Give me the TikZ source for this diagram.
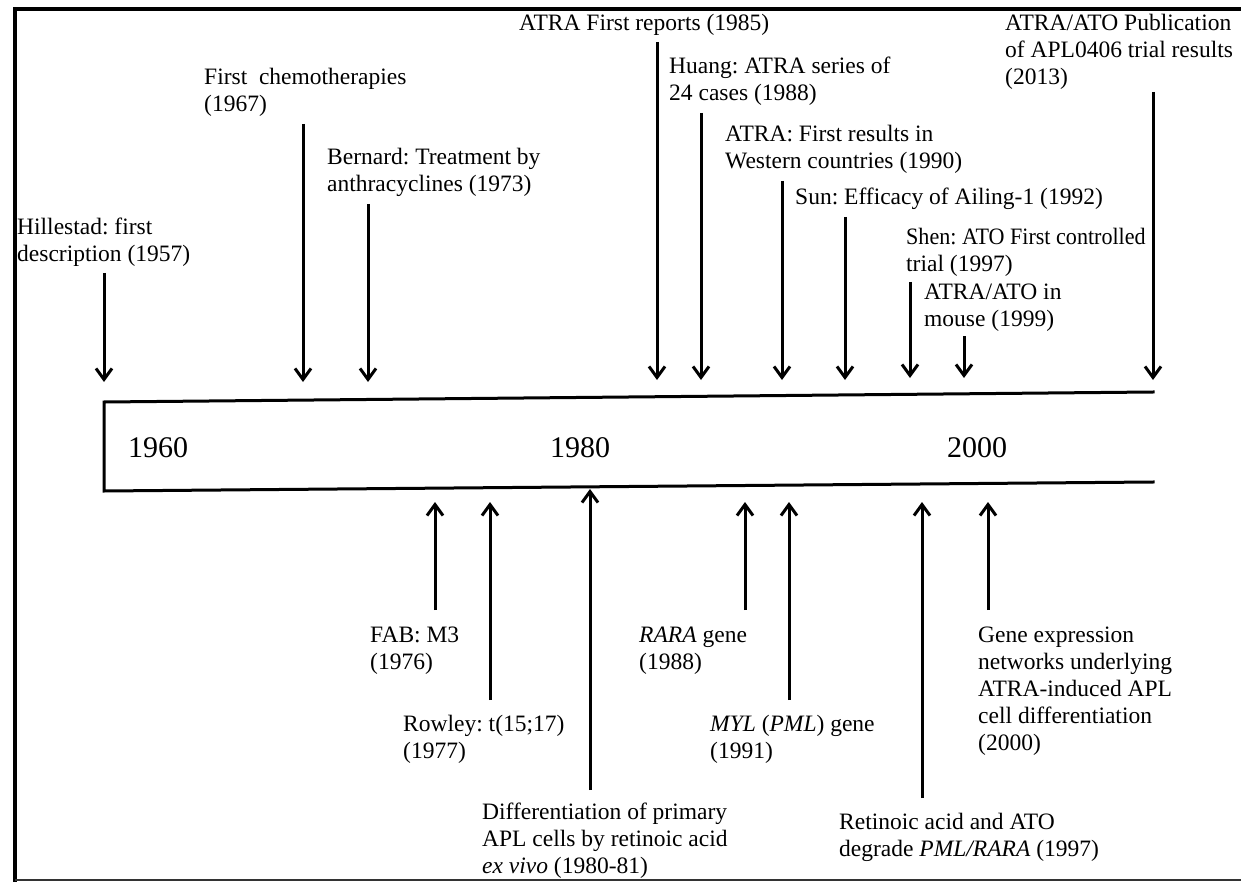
\documentclass[tikz,border=0pt]{standalone}
\usepackage{fontspec}
\setmainfont{Liberation Serif}
\usetikzlibrary{arrows.meta}
\frenchspacing
\begin{document}
\begin{tikzpicture}[x=1pt,y=-1pt,
  lbl/.style={anchor=north west, inner sep=0pt, align=left, font=\fontsize{23.5}{27}\selectfont\frenchspacing},
  yr/.style={anchor=base, inner sep=0pt, font=\fontsize{30}{30}\selectfont},
  evt/.style={line width=3pt, -{Straight Barb[length=11pt,width=16pt,line width=3pt]}},
  bar/.style={line width=3pt, line join=miter, line cap=rect},
  frame/.style={line width=4pt, line join=miter}]
\useasboundingbox (0,0) rectangle (1241,882);
% frame
\draw[frame] (15,882) |- (1241,9.5);
\draw[line width=2pt, black!80] (15,880) -- (1241,880);
% time bar
\coordinate (barTR) at (1153,392);
\coordinate (barTL) at (104,402);
\coordinate (barBL) at (104,491);
\coordinate (barBR) at (1153,482);
\draw[bar] (barTR) -- (barTL) -- (barBL) -- (barBR);
\node[yr] (y1960) at (158,457) {1960};
\node[yr] (y1980) at (580,457) {1980};
\node[yr] (y2000) at (977,457) {2000};
% top labels
\node[lbl] (hill) at (17,218) {Hillestad: first\\description (1957)};
\node[lbl] (chemo) at (204,68) {First\ \ chemotherapies\\(1967)};
\node[lbl] (bern) at (327,148) {Bernard: Treatment by\\anthracyclines (1973)};
\node[lbl] (rep) at (519,14) {ATRA First reports (1985)};
\node[lbl] (huang) at (669,57) {Huang: ATRA series of\\24 cases (1988)};
\node[lbl] (west) at (725,125) {ATRA: First results in\\Western countries (1990)};
\node[lbl] (sun) at (795,188) {Sun: Efficacy of Ailing-1 (1992)};
\node[lbl] (shen) at (906,228) {\scalebox{0.94}[1]{Shen: ATO First controlled}\\trial (1997)};
\node[lbl] (mouse) at (924,284) {ATRA/ATO in\\mouse (1999)};
\node[lbl] (pub) at (1005,14) {ATRA/ATO Publication\\of APL0406 trial results\\(2013)};
% bottom labels
\node[lbl] (fab) at (370,627) {FAB: M3\\(1976)};
\node[lbl] (row) at (403,715) {Rowley: t(15;17)\\(1977)};
\node[lbl] (diff) at (482,803) {Differentiation of primary\\APL cells by retinoic acid\\\textit{ex vivo} (1980-81)};
\node[lbl] (rara) at (639,627) {\textit{RARA} gene\\(1988)};
\node[lbl] (myl) at (710,715) {\textit{MYL} (\textit{PML}) gene\\(1991)};
\node[lbl] (reti) at (839,813) {Retinoic acid and ATO\\degrade \textit{PML/RARA} (1997)};
\node[lbl] (gene) at (978,627) {Gene expression\\networks underlying\\ATRA-induced APL\\cell differentiation\\(2000)};
% top arrows
\coordinate (hillS) at (104,273);  \coordinate (hillE) at (104,382);
\coordinate (chemoS) at (303,124); \coordinate (chemoE) at (303,382);
\coordinate (bernS) at (368,204);  \coordinate (bernE) at (368,382);
\coordinate (repS) at (657,42);    \coordinate (repE) at (657,380);
\coordinate (huangS) at (701,113); \coordinate (huangE) at (701,380);
\coordinate (westS) at (782,181);  \coordinate (westE) at (782,380);
\coordinate (sunS) at (845,217);   \coordinate (sunE) at (845,380);
\coordinate (shenS) at (910,282);  \coordinate (shenE) at (910,378);
\coordinate (mouseS) at (964,336); \coordinate (mouseE) at (964,378);
\coordinate (pubS) at (1153,92);   \coordinate (pubE) at (1153,380);
\foreach \n in {hill,chemo,bern,rep,huang,west,sun,shen,mouse,pub}
  \draw[evt] (\n S) -- (\n E);
% bottom arrows
\coordinate (fabS) at (435,610);   \coordinate (fabE) at (435,502);
\coordinate (rowS) at (490,700);   \coordinate (rowE) at (490,502);
\coordinate (diffS) at (590,790);  \coordinate (diffE) at (590,489);
\coordinate (raraS) at (745,610);  \coordinate (raraE) at (745,502);
\coordinate (mylS) at (789,700);   \coordinate (mylE) at (789,502);
\coordinate (retiS) at (922,798);  \coordinate (retiE) at (922,502);
\coordinate (geneS) at (988,610);  \coordinate (geneE) at (988,502);
\foreach \n in {fab,row,diff,rara,myl,reti,gene}
  \draw[evt] (\n S) -- (\n E);
\end{tikzpicture}
\end{document}
